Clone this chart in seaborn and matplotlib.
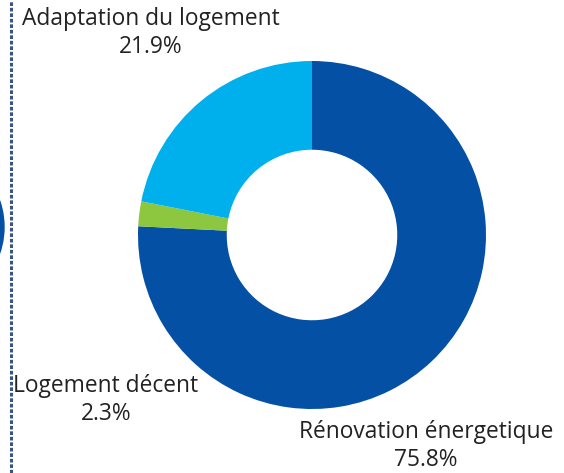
import matplotlib
matplotlib.use("Agg")
import matplotlib.pyplot as plt
import seaborn as sns
from matplotlib.patches import Circle
from matplotlib.lines import Line2D

sns.set_theme(style="white")
plt.rcParams['font.family'] = ['Open Sans', 'DejaVu Sans']

categories = ["Rénovation énergetique", "Logement décent", "Adaptation du logement"]
values = [75.8, 2.3, 21.9]
colors = ["#0450A4", "#8DC63F", "#00B0EC"]

W, H = 564, 473
fig = plt.figure(figsize=(W / 100, H / 100), dpi=100)
fig.patch.set_facecolor("white")

cx, cy, R = 312, 235, 174
ax = fig.add_axes([(cx - R) / W, (H - cy - R) / H, 2 * R / W, 2 * R / H])
ax.pie(values, colors=colors, startangle=90, counterclock=False,
       wedgeprops=dict(width=0.51, edgecolor="none"), radius=1.0)
ax.set_xlim(-1, 1)
ax.set_ylim(-1, 1)
ax.set_aspect("equal")
ax.axis("off")

label_pos = {
    "Rénovation énergetique": (426, 446),
    "Logement décent": (106, 400),
    "Adaptation du logement": (151, 33),
}
for cat, v in zip(categories, values):
    px, py = label_pos[cat]
    fig.text(px / W, 1 - py / H, f"{cat}\n{v}%", ha="center", va="center",
             fontsize=16.4, color="#222222", linespacing=1.2)

# left decorative border and partial marker
fig.add_artist(Line2D([11 / W, 11 / W], [0, 1], transform=fig.transFigure,
                      color="#3A5680", lw=2.2, linestyle=(0, (1.2, 0.6))))
fig.add_artist(Circle((-110 / W, 1 - 227 / H), 114 / W, transform=fig.transFigure,
                      color="#0450A4", clip_on=False))

fig.savefig("out.png", dpi=100)
